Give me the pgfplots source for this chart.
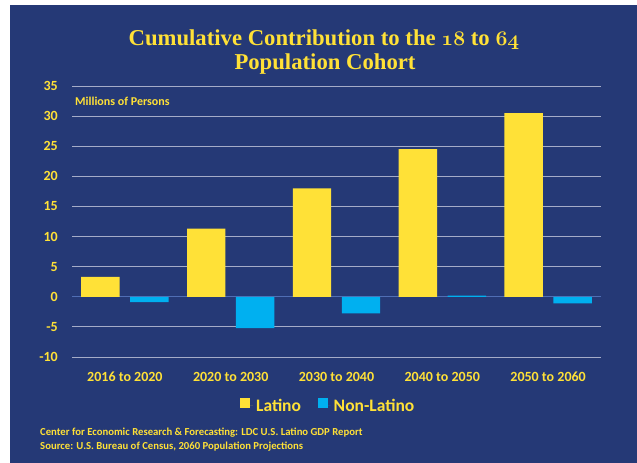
\documentclass[border=0pt]{standalone}
\usepackage{fontspec}
\usepackage{graphicx}
\usepackage{pgfplots}
\pgfplotsset{compat=1.18}
\newfontfamily\calibri{Carlito}
\newfontfamily\titlefont{Liberation Serif}
\definecolor{bgblue}{RGB}{37,57,118}
\definecolor{yellowc}{RGB}{255,225,55}
\definecolor{bluec}{RGB}{0,176,240}
\definecolor{gridc}{RGB}{165,172,200}
\definecolor{zeroc}{RGB}{80,110,180}
\newcommand{\osn}[2]{{\boldmath$\mathchar"01#1\mathchar"01#2$}}
\begin{document}
\begin{tikzpicture}[x=1pt,y=1pt]
\path[use as bounding box] (0,0) rectangle (637,463);
\fill[white] (0,0) rectangle (637,463);
\fill[bgblue] (10,0) rectangle (637,458);
\node[anchor=base, text=yellowc, font=\titlefont\bfseries\fontsize{22.7}{24}\selectfont, inner sep=0pt] at (324,417.3) {Cumulative Contribution to the \osn{31}{38} to \osn{36}{34}};
\node[anchor=base, text=yellowc, font=\titlefont\bfseries\fontsize{22.7}{24}\selectfont, inner sep=0pt] at (325,393) {Population Cohort};
\begin{axis}[
  at={(72pt,106pt)}, anchor=south west,
  scale only axis, width=529pt, height=271pt,
  xmin=-0.5, xmax=4.5, ymin=-10, ymax=35,
  xtick={0,1,2,3,4},
  xticklabels={2016 to 2020,2020 to 2030,2030 to 2040,2040 to 2050,2050 to 2060},
  ytick={-10,-5,5,10,15,20,25,30,35},
  extra y ticks={0}, extra y tick labels={0},
  extra y tick style={grid style={zeroc, line width=1pt}},
  ymajorgrids, grid style={gridc, line width=0.9pt},
  axis line style={draw=none}, major tick length=0pt, tick style={draw=none},
  /pgf/number format/assume math mode=true,
  tick label style={font=\calibri\bfseries\fontsize{14}{16}\selectfont, text=yellowc},
  yticklabel style={anchor=east, inner sep=0pt, xshift=-14pt},
  xticklabel style={anchor=base, inner sep=0pt, yshift=-24pt},
  ybar, bar width=0.363,
  legend style={at={(0.4856,-0.1808)}, anchor=center, draw=none, fill=none,
    legend columns=2, font=\calibri\bfseries\fontsize{17.5}{20}\selectfont, text=yellowc,
    nodes={inner sep=3pt},
    /tikz/every even column/.append style={column sep=14pt}},
  legend image code/.code={\fill[#1] (0pt,-2.5pt) rectangle (9.7pt,7.5pt); \path (0pt,0pt) -- (12.7pt,0pt);},
]
\addplot[fill=yellowc, draw=none, bar shift=-0.2315] coordinates {(0,3.3) (1,11.3) (2,18.0) (3,24.5) (4,30.5)};
\addplot[fill=bluec, draw=none, bar shift=0.2315] coordinates {(0,-0.9) (1,-5.2) (2,-2.75) (3,0.2) (4,-1.1)};
\legend{Latino,Non-Latino}
\end{axis}
\node[anchor=base west, text=yellowc, font=\calibri\bfseries\fontsize{12}{14}\selectfont, inner sep=0pt] at (75,357.5) {Millions of Persons};
\node[anchor=base west, text=yellowc, font=\calibri\bfseries\fontsize{10.7}{12}\selectfont, inner sep=0pt] at (40,27.5) {Center for Economic Research \& Forecasting: LDC U.S. Latino GDP Report};
\node[anchor=base west, text=yellowc, font=\calibri\bfseries\fontsize{10.7}{12}\selectfont, inner sep=0pt] at (40,13.5) {Source: U.S. Bureau of Census, 2060 Population Projections};
\end{tikzpicture}
\end{document}
